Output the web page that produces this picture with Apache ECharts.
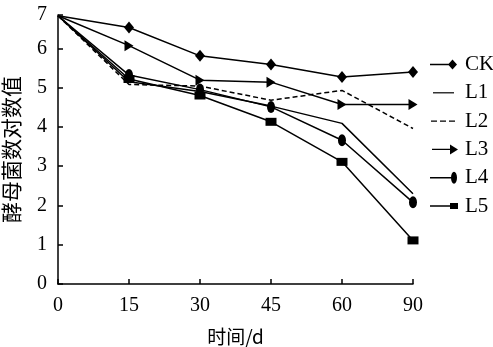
<!DOCTYPE html>
<html><head><meta charset="utf-8">
<script src="https://cdn.jsdelivr.net/npm/echarts@6/dist/echarts.min.js"></script>
<style>html,body{margin:0;padding:0;background:#fff}#c{width:493px;height:347px}</style>
</head><body><div id="c"></div>
<script>
const categories = ['0', '15', '30', '45', '60', '90'];
const CK = [6.83, 6.53, 5.81, 5.59, 5.27, 5.40];
const L1 = [6.83, 5.15, 4.90, 4.53, 4.09, 2.30];
const L2 = [6.83, 5.08, 5.04, 4.68, 4.93, 3.96];
const L3 = [6.83, 6.07, 5.19, 5.14, 4.57, 4.57];
const L4 = [6.83, 5.32, 4.95, 4.51, 3.66, 2.08];
const L5 = [6.83, 5.22, 4.80, 4.13, 3.11, 1.11];
// the axis in the original stops just below 7 and carries the label "7" at its top
const yMin = 0, yMax = 6.85, yStep = 1;
const seriesNames = ['CK', 'L1', 'L2', 'L3', 'L4', 'L5'];

const font = '"Liberation Serif", "DejaVu Serif", serif';
const cjk = '"Noto Sans CJK SC", sans-serif';
const ELLIPSE = 'path://M5,0 A5,7 0 1,1 5,14 A5,7 0 1,1 5,0 Z';

// legend icons: line on the left, marker at the right end (28 x 12 box)
const box = 'M0,0 M28,12 ';
const legendIcons = {
  CK: 'path://' + box + 'M0,5.3 H20 V6.7 H0 Z M18,6 L22.5,1 L27,6 L22.5,11 Z',
  L1: 'path://' + box + 'M3,5.4 H24 V6.6 H3 Z',
  L2: 'path://' + box + 'M1,5.4 H7 V6.6 H1 Z M10,5.4 H16 V6.6 H10 Z M19,5.4 H25 V6.6 H19 Z',
  L3: 'path://' + box + 'M2,5.3 H21 V6.7 H2 Z M20,1 L28,6 L20,11 Z',
  L4: 'path://' + box + 'M0,5.3 H22 V6.7 H0 Z M24,0 A3,6 0 1,1 24,12 A3,6 0 1,1 24,0 Z',
  L5: 'path://' + box + 'M0,5.3 H20 V6.7 H0 Z M20,3 H28 V9 H20 Z'
};

function mk(name, vals, symbol, size, rot, dashed) {
  return {
    name, type: 'line',
    data: vals.map((v, i) => i === 0 ? {value: v, symbol: 'none'} : v),
    symbol: symbol, symbolSize: size, symbolRotate: rot || 0,
    showSymbol: symbol !== 'none',
    lineStyle: {color: '#000', width: 1.5, type: dashed ? [5, 3] : 'solid'},
    itemStyle: {color: '#000'},
    emphasis: {disabled: true},
    animation: false
  };
}
const chart = echarts.init(document.getElementById('c'));
chart.setOption({
  backgroundColor: '#fff',
  animation: false,
  grid: {left: 58, right: 80, top: 15, bottom: 63, containLabel: false, outerBoundsMode: 'none'},
  legend: {
    orient: 'vertical', left: 425, top: 49, itemGap: 7.3, itemWidth: 28, itemHeight: 20,
    textStyle: {fontFamily: font, fontSize: 21, color: '#000', padding: [0, 0, 0, 2]},
    data: seriesNames.map(n => ({name: n, icon: legendIcons[n]}))
  },
  xAxis: {
    type: 'category', data: categories, boundaryGap: false,
    name: '时间/d', nameLocation: 'middle', nameGap: 43,
    nameTextStyle: {fontFamily: cjk, fontSize: 19, color: '#000'},
    axisLine: {lineStyle: {color: '#000', width: 1.5}},
    axisTick: {inside: true, length: 5, lineStyle: {color: '#000', width: 1.5}, alignWithLabel: true},
    axisLabel: {fontFamily: font, fontSize: 20, color: '#000', margin: 12},
    splitLine: {show: false}
  },
  yAxis: {
    type: 'value', min: yMin, max: yMax, interval: yStep,
    name: '酵母菌数对数值', nameLocation: 'middle', nameGap: 36, nameRotate: 90,
    nameTextStyle: {fontFamily: cjk, fontSize: 21, color: '#000'},
    axisLine: {show: true, lineStyle: {color: '#000', width: 1.5}},
    axisTick: {show: true, inside: true, length: 5, lineStyle: {color: '#000', width: 1.5}},
    axisLabel: {fontFamily: font, fontSize: 20, color: '#000', margin: 11, showMaxLabel: true,
      formatter: v => String(Math.round(v))},
    splitLine: {show: false}
  },
  series: [
    mk('CK', CK, 'diamond', [10, 12]),
    mk('L1', L1, 'none', 0),
    mk('L2', L2, 'none', 0, 0, true),
    mk('L3', L3, 'triangle', [11, 9], -90),
    mk('L4', L4, ELLIPSE, [8, 12]),
    mk('L5', L5, 'rect', [11, 8])
  ]
});
</script></body></html>
